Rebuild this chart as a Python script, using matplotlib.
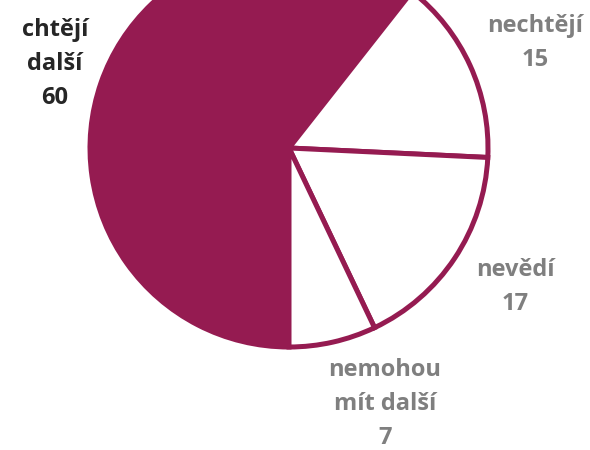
import matplotlib.pyplot as plt

labels = ['chtějí\ndalší', 'nechtějí', 'nevědí', 'nemohou\nmít další']
values = [60, 15, 17, 7]

magenta = '#951B51'
fills = [magenta, 'white', 'white', 'white']
text_colors = ['#262626', '#7F7F7F', '#7F7F7F', '#7F7F7F']
# label centres in pixels from top-left
label_pos = [(55, 64), (535, 43), (515, 287), (385, 404)]

plt.rcParams['font.family'] = ['Open Sans', 'DejaVu Sans']

fig = plt.figure(figsize=(5.9, 4.5), dpi=100)
ax = fig.add_axes([0, 0, 1, 1])

ax.pie(values, colors=fills, startangle=-90, counterclock=False,
       center=(289, 450 - 148), radius=199, frame=True,
       wedgeprops=dict(edgecolor=magenta, linewidth=3.6))
ax.set_xlim(0, 590)
ax.set_ylim(0, 450)
ax.set_aspect('equal')
ax.axis('off')

for lab, v, (x, y), c in zip(labels, values, label_pos, text_colors):
    ax.text(x, 450 - y, f'{lab}\n{v}', ha='center', va='center',
            fontsize=17, fontweight='bold', color=c, linespacing=1.55)

fig.savefig('out.png', dpi=100)
